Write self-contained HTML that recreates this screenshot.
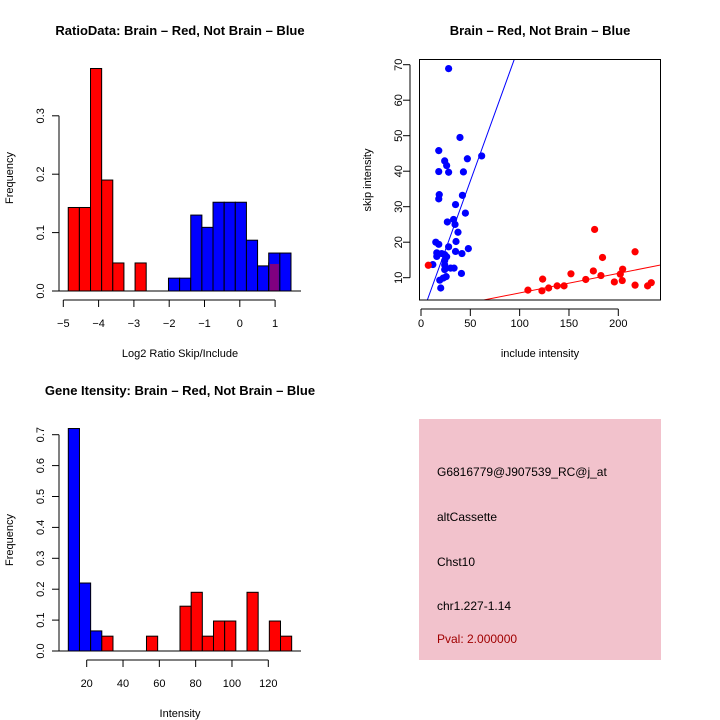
<!DOCTYPE html>
<html><head><meta charset="utf-8"><style>
body{margin:0;background:#fff;}
svg{display:block;font-family:"Liberation Sans",sans-serif;}
</style></head><body>
<svg id="c" width="720" height="720" viewBox="0 0 720 720">
<text x="180" y="35" text-anchor="middle" font-size="13" font-weight="bold">RatioData: Brain – Red, Not Brain – Blue</text>
<text x="540" y="35" text-anchor="middle" font-size="13" font-weight="bold">Brain – Red, Not Brain – Blue</text>
<text x="180" y="395" text-anchor="middle" font-size="13" font-weight="bold">Gene Itensity: Brain – Red, Not Brain – Blue</text>
<text x="180" y="357" text-anchor="middle" font-size="11">Log2 Ratio Skip/Include</text>
<text transform="translate(13,178) rotate(-90)" text-anchor="middle" font-size="11">Frequency</text>
<text x="540" y="357" text-anchor="middle" font-size="11">include intensity</text>
<text transform="translate(371,180) rotate(-90)" text-anchor="middle" font-size="11">skip intensity</text>
<text x="180" y="717" text-anchor="middle" font-size="11">Intensity</text>
<text transform="translate(13,540) rotate(-90)" text-anchor="middle" font-size="11">Frequency</text>
<rect x="419" y="419" width="242" height="241" fill="#f2c2cc"/>
<text x="437" y="476" font-size="12">G6816779@J907539_RC@j_at</text>
<text x="437" y="521" font-size="12">altCassette</text>
<text x="437" y="566" font-size="12">Chst10</text>
<text x="437" y="610" font-size="12">chr1.227-1.14</text>
<text x="437" y="643" font-size="12" fill="#a00000">Pval: 2.000000</text>
</svg>
<script>
// Ratio histogram data
const ratioBreakStart = -4.86, ratioBinWidth = 0.3155;
const ratioRed = [0.143,0.143,0.381,0.19,0.048,0,0.048,0,0,0,0,0,0,0,0,0,0,0,0.048,0];
const ratioBlue = [0,0,0,0,0,0,0,0,0,0.022,0.022,0.13,0.109,0.152,0.152,0.152,0.087,0.043,0.065,0.065];
const ratioXTicks = [-5,-4,-3,-2,-1,0,1];
const ratioYTicks = [0,0.1,0.2,0.3];
// Intensity histogram data
const intBreakStart = 9.87, intBinWidth = 6.15;
const intBlue = [0.72,0.22,0.065,0,0,0,0,0,0,0,0,0,0,0,0,0,0,0,0,0];
const intRed = [0,0,0,0.048,0,0,0,0.048,0,0,0.145,0.19,0.048,0.097,0.097,0,0.19,0,0.097,0.048];
const intXTicks = [20,40,60,80,100,120];
const intYTicks = [0,0.1,0.2,0.3,0.4,0.5,0.6,0.7];
// Scatter data
const blueX = [28,39.5,18,24,26,18,28,47,61.5,43,18.5,18,42,35,45,26.7,33,34.5,37.5,15,18,35.5,28,48,35,41.5,16,16,21,24,26,24,24,12,24,30,33.5,41,25.5,22.5,19,20];
const blueY = [68.9,49.5,45.8,42.9,41.6,39.9,39.7,43.5,44.3,39.8,33.4,32.2,33.2,30.6,28.2,25.7,26.4,25,22.8,20,19.4,20.2,18.7,18.2,17.4,16.8,17,16,16.8,16.5,15.9,14.8,13.6,13.7,12.3,12.7,12.7,11.2,10.3,9.9,9.3,7.1];
const redX = [7.4,108.4,122.6,123.3,129.4,138,145,152,167,174.7,176,182.4,184,196,202,204.4,204,217,217,229.7,233.4];
const redY = [13.5,6.5,6.3,9.6,7.1,7.7,7.7,11.1,9.5,11.9,23.6,10.6,15.7,8.8,11,12.4,9.2,17.3,7.9,7.7,8.6];
const blueFit = [-1.22,0.769];
const redFit = [0.22,0.055];
const scXTicks = [0,50,100,150,200];
const scYTicks = [10,20,30,40,50,60,70];

const NS="http://www.w3.org/2000/svg", svg=document.getElementById('c');
function mk(tag,attrs,parent){const e=document.createElementNS(NS,tag);for(const k in attrs)e.setAttribute(k,attrs[k]);(parent||svg).appendChild(e);return e;}

function hist(o){
  const g=mk('g',{});
  
  
  const n=o.red.length;
  for(let i=0;i<n;i++){
    const x0=o.sx(o.start+i*o.w), x1=o.sx(o.start+(i+1)*o.w);
    const r=o.red[i], b=o.blue[i];
    if(r>0){const e=mk('rect',{x:x0,y:o.sy(r),width:x1-x0,height:o.sy(0)-o.sy(r),fill:'#ff0000',stroke:'#000','stroke-width':1},g);
      
      }
    if(b>0){const e=mk('rect',{x:x0,y:o.sy(b),width:x1-x0,height:o.sy(0)-o.sy(b),fill:'#0000ff',stroke:'#000','stroke-width':1},g);
      
      }
    if(r>0&&b>0){const m=Math.min(r,b);const e=mk('rect',{x:x0+1,y:o.sy(m)+1,width:x1-x0-2,height:o.sy(0)-o.sy(m)-1,fill:'#800080'},g);
      
      }
  }
  mk('line',{x1:52,x2:301,y1:o.sy(0),y2:o.sy(0),stroke:'#000'},g);
  // y axis
  const ya=mk('g',{});
  
  
  const yt=o.yt;
  mk('line',{x1:59,x2:59,y1:o.sy(yt[0]),y2:o.sy(yt[yt.length-1]),stroke:'#000'},ya);
  yt.forEach(v=>{const y=o.sy(v);mk('line',{x1:52,x2:59,y1:y,y2:y,stroke:'#000'},ya);
    const t=mk('text',{transform:`translate(44,${y}) rotate(-90)`,'text-anchor':'middle','font-size':11},ya);t.textContent=v.toFixed(1);});
  const xa=mk('g',{});
  
  
  const xt=o.xt;
  mk('line',{x1:o.sx(xt[0]),x2:o.sx(xt[xt.length-1]),y1:o.ay,y2:o.ay,stroke:'#000'},xa);
  xt.forEach(v=>{const x=o.sx(v);mk('line',{x1:x,x2:x,y1:o.ay,y2:o.ay+7,stroke:'#000'},xa);
    const t=mk('text',{x:x,y:o.ay+27,'text-anchor':'middle','font-size':11},xa);t.textContent=v<0?'\u2212'+(-v):v;});
}
hist({name:'ratio-histogram',red:ratioRed,blue:ratioBlue,start:ratioBreakStart,w:ratioBinWidth,
  sx:v=>63.3+(v+5)*35.3,sy:v=>291-v*584,yt:ratioYTicks,xt:ratioXTicks,ay:300});
hist({name:'intensity-histogram',red:intRed,blue:intBlue,start:intBreakStart,w:intBinWidth,
  sx:v=>86.7+(v-20)*1.816,sy:v=>651-v*309,yt:intYTicks,xt:intXTicks,ay:660});

// scatter
const sx=v=>421+v*0.9865, sy=v=>313.2-v*3.55;
const sg=mk('g',{});


mk('clipPath',{id:'clip'},sg).appendChild(Object.assign(document.createElementNS(NS,'rect'),{}));
const cr=sg.querySelector('clipPath').firstChild;cr.setAttribute('x',419.5);cr.setAttribute('y',59.5);cr.setAttribute('width',241);cr.setAttribute('height',240.5);
function pts(X,Y,col,nm){X.forEach((x,i)=>{const c=mk('circle',{cx:sx(x),cy:sy(Y[i]),r:3.6,fill:col},sg);
  
  });}
pts(blueX,blueY,'#0000ff','blue-point');
pts(redX,redY,'#ff0000','red-point');
function fit(f,col,nm){const l=mk('line',{x1:sx(-5),y1:sy(f[0]+f[1]*-5),x2:sx(250),y2:sy(f[0]+f[1]*250),stroke:col,'clip-path':'url(#clip)'},sg);
  
  }
fit(blueFit,'#0000ff','blue-fit-line');
fit(redFit,'#ff0000','red-fit-line');
mk('rect',{x:419.5,y:59.5,width:241,height:240.5,fill:'none',stroke:'#000'},sg);
mk('line',{x1:sx(scXTicks[0]),x2:sx(scXTicks[scXTicks.length-1]),y1:309,y2:309,stroke:'#000'},sg);
scXTicks.forEach(v=>{const x=sx(v);mk('line',{x1:x,x2:x,y1:309,y2:316,stroke:'#000'},sg);
  const t=mk('text',{x:x,y:327,'text-anchor':'middle','font-size':11},sg);t.textContent=v;});
mk('line',{x1:410,x2:410,y1:sy(scYTicks[0]),y2:sy(scYTicks[scYTicks.length-1]),stroke:'#000'},sg);
scYTicks.forEach(v=>{const y=sy(v);mk('line',{x1:403,x2:410,y1:y,y2:y,stroke:'#000'},sg);
  const t=mk('text',{transform:`translate(402,${y}) rotate(-90)`,'text-anchor':'middle','font-size':11},sg);t.textContent=v;});
</script>
</body></html>
